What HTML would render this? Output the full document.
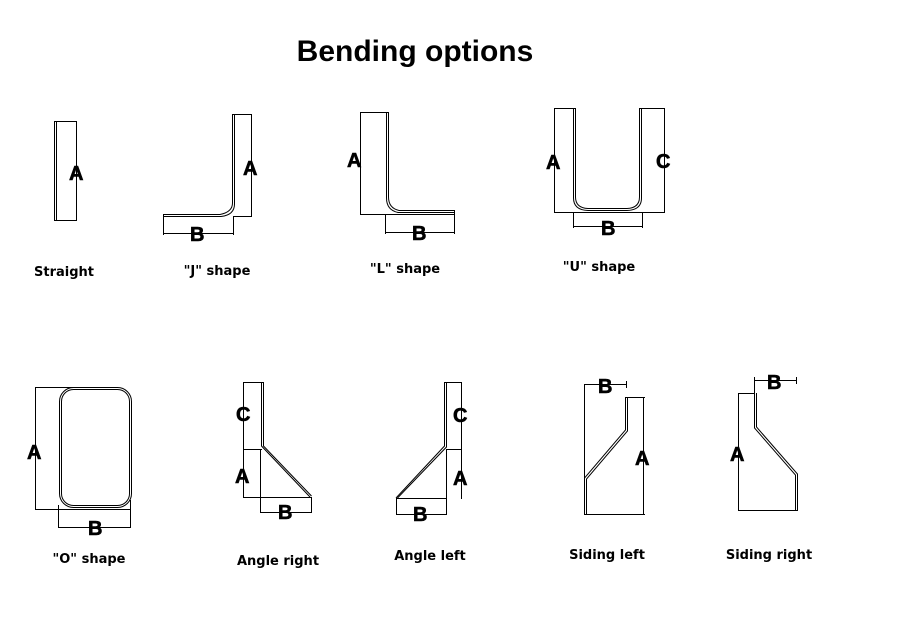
<!DOCTYPE html>
<html><head><meta charset="utf-8"><style>
html,body{margin:0;padding:0;background:#fff;}
svg{display:block;}
.t{font-family:"Liberation Sans",sans-serif;font-weight:bold;font-size:20px;fill:#000;stroke:#000;stroke-width:0.6;}
.l{font-family:"DejaVu Sans","Liberation Sans",sans-serif;font-weight:bold;font-size:13px;fill:#000;}
</style></head><body>
<svg width="902" height="640" viewBox="0 0 902 640" xmlns="http://www.w3.org/2000/svg">
<g fill="none" stroke="#000" stroke-width="1">
<!-- Straight -->
<line x1="54.5" y1="121" x2="54.5" y2="221"/><line x1="56.5" y1="121" x2="56.5" y2="221"/>
<line x1="54" y1="121.5" x2="77" y2="121.5"/><line x1="54" y1="220.5" x2="77" y2="220.5"/>
<line x1="76.5" y1="121" x2="76.5" y2="221"/>
<!-- J -->
<path d="M232.5 114 V203 Q232.5 212 220 214.5 H163"/>
<path d="M234.5 114 V204 Q234.5 215 221 216.5 H163"/>
<line x1="232" y1="114.5" x2="252" y2="114.5"/>
<line x1="251.5" y1="114" x2="251.5" y2="217"/>
<line x1="233" y1="216.5" x2="252" y2="216.5"/>
<line x1="163.5" y1="215" x2="163.5" y2="235"/><line x1="233.5" y1="216" x2="233.5" y2="235"/>
<line x1="163" y1="233.5" x2="233" y2="233.5"/>
<!-- L -->
<path d="M386.5 112 V198 Q386.5 210 398 212.5 H455"/>
<path d="M388.5 112 V197 Q388.5 208 399 210.5 H455"/>
<line x1="360" y1="112.5" x2="388" y2="112.5"/>
<line x1="360.5" y1="112" x2="360.5" y2="215"/>
<line x1="360" y1="214.5" x2="455" y2="214.5"/>
<line x1="454.5" y1="210" x2="454.5" y2="234"/>
<line x1="385.5" y1="215" x2="385.5" y2="234"/>
<line x1="385" y1="232.5" x2="455" y2="232.5"/>
<!-- U -->
<path d="M573.5 108 V198 Q573.5 210 588 210.5 H627 Q641.5 210 641.5 198 V108"/>
<path d="M575.5 108 V197 Q575.5 208 588 208.5 H627 Q639.5 208 639.5 197 V108"/>
<line x1="554" y1="108.5" x2="575" y2="108.5"/><line x1="640" y1="108.5" x2="665" y2="108.5"/>
<line x1="554.5" y1="108" x2="554.5" y2="212"/><line x1="664.5" y1="108" x2="664.5" y2="212"/>
<line x1="554" y1="212.5" x2="665" y2="212.5"/>
<line x1="573.5" y1="212" x2="573.5" y2="228"/><line x1="642.5" y1="212" x2="642.5" y2="228"/>
<line x1="573" y1="226.5" x2="643" y2="226.5"/>
<!-- O -->
<rect x="59.5" y="387.5" width="72" height="120" rx="14"/>
<rect x="61.5" y="389.5" width="68" height="116" rx="12"/>
<line x1="35.5" y1="387" x2="35.5" y2="510"/>
<line x1="35" y1="387.5" x2="80" y2="387.5"/><line x1="35" y1="509.5" x2="130" y2="509.5"/>
<line x1="58.5" y1="505" x2="58.5" y2="528"/><line x1="130.5" y1="500" x2="130.5" y2="528"/>
<line x1="58" y1="527.5" x2="131" y2="527.5"/>
<!-- Angle right -->
<path d="M261.5 382 V446 L310 497"/><path d="M263.5 382 V446 L311.5 496"/>
<line x1="243" y1="382.5" x2="263" y2="382.5"/>
<line x1="243.5" y1="382" x2="243.5" y2="498"/>
<line x1="243" y1="449.5" x2="262" y2="449.5"/>
<line x1="243" y1="497.5" x2="311" y2="497.5"/>
<line x1="260.5" y1="449" x2="260.5" y2="513"/><line x1="311.5" y1="497" x2="311.5" y2="513"/>
<line x1="260" y1="512.5" x2="311" y2="512.5"/>
<!-- Angle left -->
<path d="M444.5 382 V446 L396 498"/><path d="M446.5 382 V447 L397.5 498"/>
<line x1="444" y1="382.5" x2="462" y2="382.5"/>
<line x1="461.5" y1="382" x2="461.5" y2="499"/>
<line x1="446" y1="449.5" x2="462" y2="449.5"/>
<line x1="396" y1="498.5" x2="446" y2="498.5"/>
<line x1="396.5" y1="498" x2="396.5" y2="515"/><line x1="446.5" y1="449" x2="446.5" y2="515"/>
<line x1="396" y1="514.5" x2="446" y2="514.5"/>
<!-- Siding left -->
<line x1="584.5" y1="384" x2="584.5" y2="514"/>
<line x1="584" y1="384.5" x2="626" y2="384.5"/><line x1="626.5" y1="381" x2="626.5" y2="388"/>
<path d="M625.5 397 V430 L584.5 478 V514"/><path d="M627.5 397 V431 L586.5 479 V514"/>
<line x1="626" y1="397.5" x2="645" y2="397.5"/>
<line x1="643.5" y1="398" x2="643.5" y2="514"/>
<line x1="584" y1="514.5" x2="645" y2="514.5"/>
<!-- Siding right -->
<line x1="738.5" y1="394" x2="738.5" y2="510"/>
<line x1="738" y1="393.5" x2="755" y2="393.5"/>
<path d="M754.5 393 V428 L795.5 475 V510"/><path d="M756.5 393 V427 L797.5 474 V510"/>
<line x1="738" y1="510.5" x2="798" y2="510.5"/>
<line x1="754.5" y1="377" x2="754.5" y2="393"/><line x1="796.5" y1="377" x2="796.5" y2="384"/>
<line x1="754" y1="380.5" x2="797" y2="380.5"/>
</g>
<text x="415" y="61" text-anchor="middle" style="font-family:'Liberation Sans',sans-serif;font-weight:bold;font-size:30px;">Bending options</text>
<g class="t">
<text x="69" y="180">A</text>
<text x="243" y="175">A</text>
<text x="190" y="241">B</text>
<text x="347" y="167">A</text>
<text x="412" y="240">B</text>
<text x="546" y="169">A</text>
<text x="656" y="168">C</text>
<text x="601" y="235">B</text>
<text x="27" y="459">A</text>
<text x="88" y="535">B</text>
<text x="236" y="421">C</text>
<text x="235" y="483">A</text>
<text x="278" y="519">B</text>
<text x="453" y="422">C</text>
<text x="453" y="485">A</text>
<text x="413" y="521">B</text>
<text x="598" y="393">B</text>
<text x="635" y="465">A</text>
<text x="767" y="389">B</text>
<text x="730" y="461">A</text>
</g>
<g class="l">
<text x="64" y="276" text-anchor="middle">Straight</text>
<text x="217" y="275" text-anchor="middle">"J" shape</text>
<text x="405" y="273" text-anchor="middle">"L" shape</text>
<text x="599" y="271" text-anchor="middle">"U" shape</text>
<text x="89" y="563" text-anchor="middle">"O" shape</text>
<text x="278" y="565" text-anchor="middle">Angle right</text>
<text x="430" y="560" text-anchor="middle">Angle left</text>
<text x="607" y="559" text-anchor="middle">Siding left</text>
<text x="769" y="559" text-anchor="middle">Siding right</text>
</g>
</svg>
</body></html>
